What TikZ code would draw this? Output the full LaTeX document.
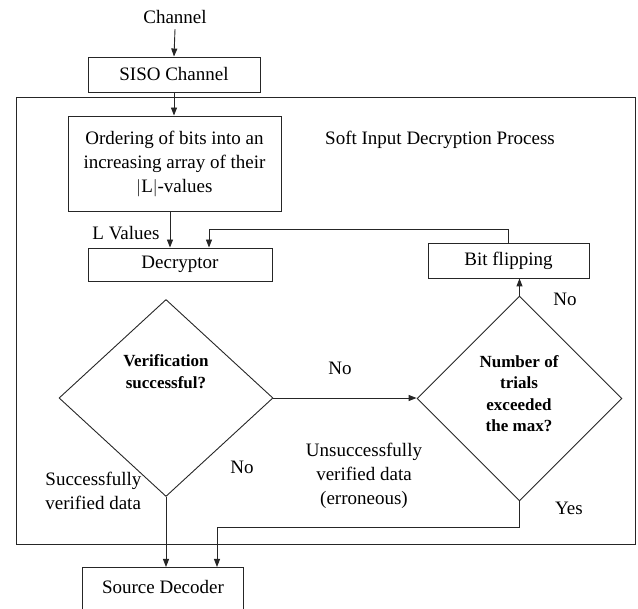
\documentclass[tikz,border=0pt]{standalone}
\usepackage{fontspec}
\setmainfont{Liberation Serif}
\usetikzlibrary{shapes.geometric,arrows.meta}
\begin{document}
\begin{tikzpicture}[x=1pt,y=-1pt, line width=0.9pt,
  lc/.style={draw=black!85},
  box/.style={lc, inner sep=0pt, align=center, font=\fontsize{19}{24}\selectfont},
  lbl/.style={font=\fontsize{19}{24}\selectfont, inner sep=0pt, align=center},
  blbl/.style={font=\bfseries\fontsize{17}{21.5}\selectfont, inner sep=0pt, align=center},
  dia/.style={lc, diamond, inner sep=0pt},
  arr/.style={lc, -{Triangle[length=8pt,width=6pt]}}]
\clip (0,0) rectangle (638,609);

\node[lbl] (chan) at (175,17) {Channel};
\node[box, minimum width=172, minimum height=35] (siso) at (174,74.5) {SISO Channel};
\node[lc, inner sep=0pt, minimum width=619, minimum height=447] (big) at (325.5,320.5) {};
\node[lbl] (title) at (440,140) {Soft Input Decryption Process};
\node[box, minimum width=213, minimum height=95] (order) at (174.5,163.5)
  {Ordering of bits into an\\increasing array of their\\$|$L$|$-values};
\node[box, minimum width=184, minimum height=33] (decr) at (180,264.5) {Decryptor};
\node[box, minimum width=161, minimum height=35] (bitf) at (508.5,260.5) {Bit flipping};
\node[dia, minimum width=214, minimum height=197] (d1) at (166,398) {};
\node[dia, minimum width=205, minimum height=205] (d2) at (519.5,398.5) {};
\node[blbl] (d1t) at (166,371.5) {Verification\\successful?};
\node[blbl] (d2t) at (519,393.5) {Number of\\trials\\exceeded\\the max?};
\node[box, minimum width=161, minimum height=50, anchor=north] (src) at (162.5,567) {};
\node[lbl] (srct) at (163,587) {Source Decoder};

\node[lbl] (lv) at (126,233) {L Values};
\node[lbl] (no1) at (565,299) {No};
\node[lbl] (no2) at (340,368) {No};
\node[lbl] (no3) at (242,467) {No};
\node[lbl, align=left, anchor=west] (succ) at (45,491) {Successfully\\verified data};
\node[lbl] (unsucc) at (364,476) {Unsuccessfully\\verified data\\(erroneous)};
\node[lbl] (yes) at (569,508) {Yes};

\coordinate (j) at (217,527);

\draw[arr] (chan.south) ++(0,5) -- (siso.north);
\draw[arr] (siso.south) -- (siso.south |- order.north);
\draw[arr] ([xshift=-4.5pt]order.south) -- ([xshift=-4.5pt]order.south |- decr.north);
\draw[arr] (bitf.north) -- ++(0,-13) -| ([xshift=29pt]decr.north);
\draw[arr] (d1.east) -- (d1.east -| d2.west);
\draw[arr] (d2.north) -- (d2.north |- bitf.south);
\draw[arr] (d1.south) -- (d1.south |- src.north);
\draw[arr] (d2.south) |- (j) -- (j |- src.north);
\end{tikzpicture}
\end{document}
